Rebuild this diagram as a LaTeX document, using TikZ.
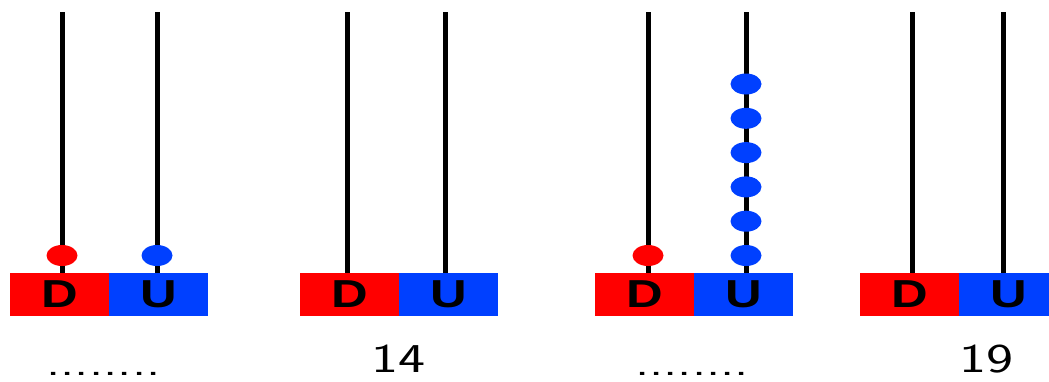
\documentclass[tikz,border=0pt]{standalone}
\usepackage{fontspec}
\setmainfont{Liberation Sans}
\usetikzlibrary{shapes.geometric}
\definecolor{abred}{RGB}{255,0,0}
\definecolor{abblue}{RGB}{0,64,255}
\begin{document}
\begin{tikzpicture}[x=1pt,y=-1pt,
  rod/.style={line width=5pt, black},
  half/.style={rectangle, minimum width=99pt, minimum height=43pt, inner sep=0pt,
    font=\fontsize{39}{39}\selectfont\bfseries},
  dhalf/.style={half, fill=abred},
  uhalf/.style={half, fill=abblue},
  bead/.style={ellipse, minimum width=31pt, minimum height=21pt, inner sep=0pt},
  redbead/.style={bead, fill=abred},
  bluebead/.style={bead, fill=abblue},
  num/.style={anchor=base, inner sep=0pt, font=\sffamily\fontsize{41}{41}\selectfont},
  dots/.style={anchor=base, inner sep=0pt, font=\sffamily\fontsize{39}{39}\selectfont}]
\useasboundingbox (0,0) rectangle (1049,381);
% boxes
\node[dhalf] (d1) at (59.5,294.5) {\raisebox{-2pt}{\scalebox{1.3}[1]{D}}};
\node[uhalf] (u1) at (158.5,294.5) {\raisebox{-2pt}{\scalebox{1.3}[1]{U}}};
\node[dhalf] (d2) at (349.5,294.5) {\raisebox{-2pt}{\scalebox{1.3}[1]{D}}};
\node[uhalf] (u2) at (448.5,294.5) {\raisebox{-2pt}{\scalebox{1.3}[1]{U}}};
\node[dhalf] (d3) at (644.5,294.5) {\raisebox{-2pt}{\scalebox{1.3}[1]{D}}};
\node[uhalf] (u3) at (743.5,294.5) {\raisebox{-2pt}{\scalebox{1.3}[1]{U}}};
\node[dhalf] (d4) at (909.5,294.5) {\raisebox{-2pt}{\scalebox{1.3}[1]{D}}};
\node[uhalf] (u4) at (1008.5,294.5) {\raisebox{-2pt}{\scalebox{1.3}[1]{U}}};
% rod tops
\coordinate (td1) at (62,12);
\coordinate (tu1) at (157,12);
\coordinate (td2) at (347,12);
\coordinate (tu2) at (445,12);
\coordinate (td3) at (648,12);
\coordinate (tu3) at (746,12);
\coordinate (td4) at (912,12);
\coordinate (tu4) at (1003,12);
% rods
\foreach \i in {1,2,3,4}{
  \draw[rod] (td\i) -- (td\i |- d\i.north);
  \draw[rod] (tu\i) -- (tu\i |- u\i.north);
}
% beads
\node[redbead] (r1) at (62,255.5) {};
\node[bluebead] (b1) at (157,255.5) {};
\node[redbead] (r3) at (648,255.5) {};
\foreach \k in {0,...,5}{
  \node[bluebead] (b3\k) at (746,255.5-34.3*\k) {};
}
% labels
\node[dots] (l1) at (103.5,375) {\scalebox{1.4}[1]{........}};
\node[num] (l2) at (398,372) {\scalebox{1.4}[1]{14}};
\node[dots] (l3) at (692,375) {\scalebox{1.4}[1]{........}};
\node[num] (l4) at (986,372) {\scalebox{1.4}[1]{19}};
\end{tikzpicture}
\end{document}
